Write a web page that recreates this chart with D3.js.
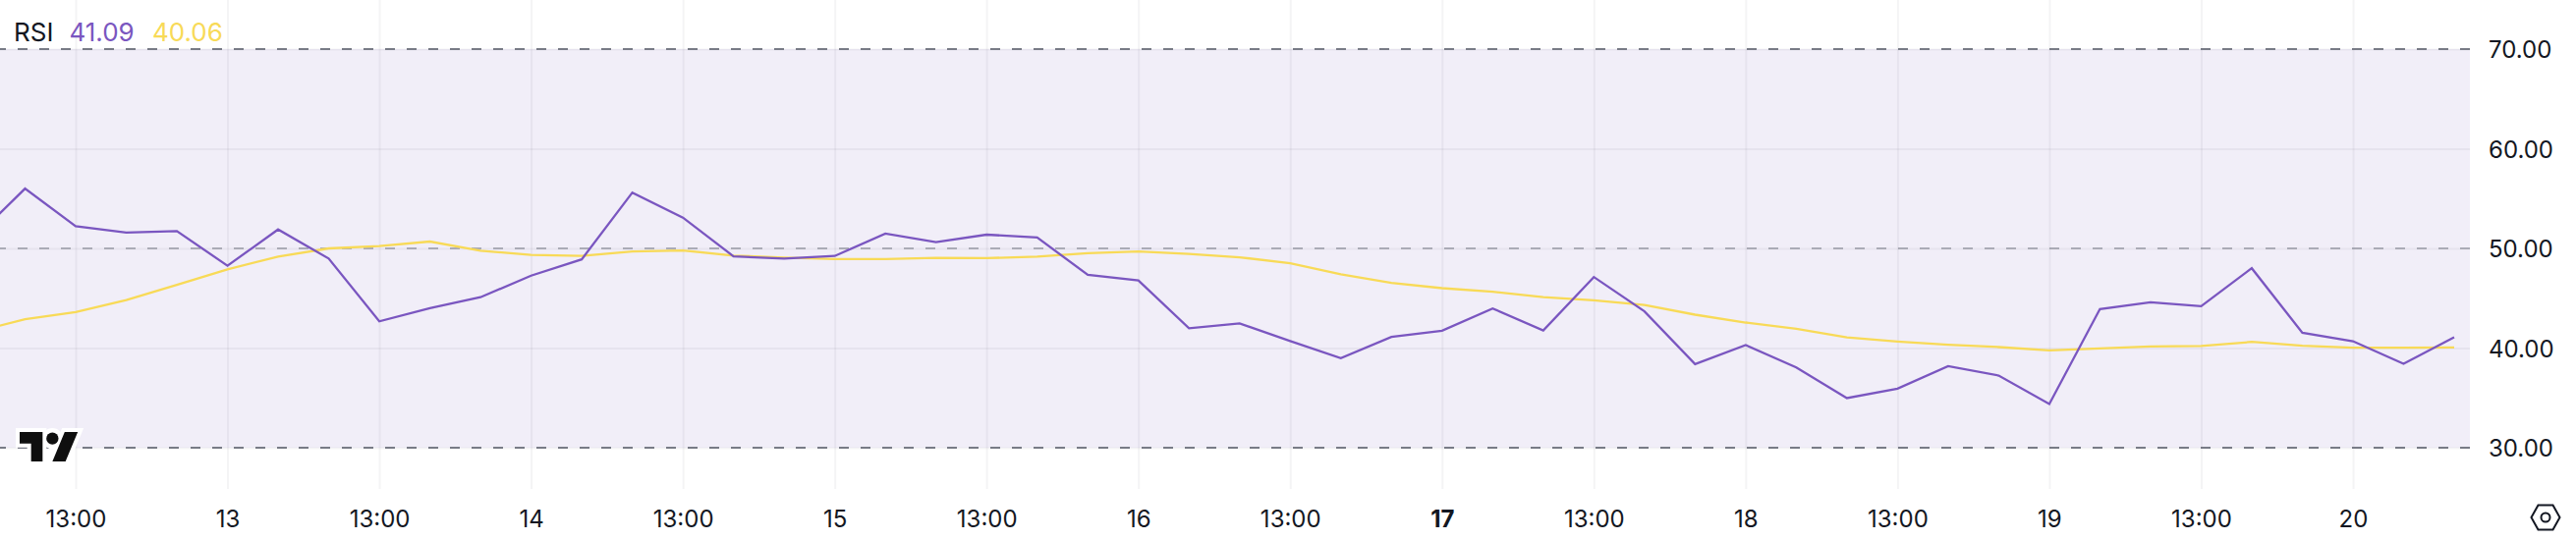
<!DOCTYPE html>
<html>
<head>
<meta charset="utf-8">
<script src="https://cdn.jsdelivr.net/npm/d3@7/dist/d3.min.js"></script>
<style>
html,body{margin:0;padding:0;background:#fff;}
svg{display:block;}
text{font-family:Inter,"Noto Sans",sans-serif;}
</style>
</head>
<body>
<svg id="chart" width="2622" height="550"></svg>
<script>
const rsiValues = [51.0,56.0,52.23,51.58,51.74,48.26,51.9,48.98,42.68,44.0,45.1,47.27,48.9,55.6,53.09,49.2,48.98,49.24,51.48,50.62,51.38,51.1,47.34,46.78,41.99,42.48,40.7,38.98,41.12,41.74,43.97,41.77,47.13,43.68,38.39,40.3,38.06,34.98,35.93,38.19,37.24,34.38,43.91,44.6,44.2,48.01,41.54,40.69,38.42,41.09];
const maValues = [41.6,42.9,43.6,44.81,46.35,47.9,49.18,50.0,50.23,50.69,49.77,49.34,49.24,49.7,49.8,49.28,49.08,48.92,48.92,49.05,49.02,49.18,49.51,49.7,49.44,49.11,48.52,47.39,46.54,46.01,45.65,45.12,44.79,44.33,43.35,42.56,41.94,41.08,40.66,40.33,40.1,39.77,39.97,40.16,40.2,40.62,40.23,40.03,40.03,40.06];
const xTickIndex = [2,5,8,11,14,17,20,23,26,29,32,35,38,41,44,47];
const xTickLabels = ["13:00","13","13:00","14","13:00","15","13:00","16","13:00","17","13:00","18","13:00","19","13:00","20"];
const boldTick = "17";
const yTicks = [30,40,50,60,70];
const bandLevels = [30,70];
const dashedLevels = [30,50,70];
const legendName = "RSI";

const PURPLE = "#7A56C0", YELLOW = "#F8DA57", TEXT = "#131722", BAND = "#F1EEF8", GRID = "rgba(42,46,57,0.05)";
const plotW = 2514, gridBottom = 498, H = 550;

const svg = d3.select("#chart");
const x = d3.scaleLinear().domain([0,49]).range([-26.02,2498.0]);
const y = d3.scaleLinear().domain([30,70]).range([456,50]);

svg.append("defs").append("clipPath").attr("id","plot")
  .append("rect").attr("x",0).attr("y",0).attr("width",plotW).attr("height",H);

// band
svg.append("rect")
  .attr("x",0).attr("width",plotW)
  .attr("y",y(bandLevels[1])).attr("height",y(bandLevels[0])-y(bandLevels[1]))
  .attr("fill",BAND);

// vertical and horizontal grid
const vg = svg.append("g").attr("transform",`translate(0,${gridBottom})`)
  .call(d3.axisBottom(x).tickValues(xTickIndex).tickSize(-gridBottom).tickFormat(""));
vg.select(".domain").remove();
vg.selectAll("line").attr("stroke",GRID).attr("stroke-width",2);

const hg = svg.append("g")
  .call(d3.axisLeft(y).tickValues(yTicks).tickSize(-plotW).tickFormat(""));
hg.select(".domain").remove();
hg.selectAll("line").attr("stroke",GRID).attr("stroke-width",2);

// dashed levels
svg.append("g").selectAll("line").data(dashedLevels).join("line")
  .attr("x1",0).attr("x2",plotW)
  .attr("y1",d=>y(d)).attr("y2",d=>y(d))
  .attr("stroke","#787B86").attr("stroke-width",2)
  .attr("stroke-opacity",d=>d===50?0.55:1)
  .attr("stroke-dasharray","10 12").attr("stroke-dashoffset",4);

// series
const line = d3.line().x((d,i)=>x(i)).y(d=>y(d));
const series = svg.append("g").attr("clip-path","url(#plot)");
series.append("path").datum(maValues).attr("d",line).attr("fill","none")
  .attr("stroke",YELLOW).attr("stroke-width",2.3);
series.append("path").datum(rsiValues).attr("d",line).attr("fill","none")
  .attr("stroke",PURPLE).attr("stroke-width",2.3);

// x labels
const xa = svg.append("g").attr("transform","translate(0,528)")
  .call(d3.axisBottom(x).tickValues(xTickIndex).tickSize(0).tickPadding(0)
    .tickFormat((d,i)=>xTickLabels[i]));
xa.select(".domain").remove();
xa.selectAll("text").attr("y",0).attr("dy","0.36em")
  .attr("font-size",24).attr("fill",TEXT)
  .attr("font-family","Inter")
  .attr("font-weight",d=>xTickLabels[xTickIndex.indexOf(d)]===boldTick?700:400);

// y labels
const ya = svg.append("g").attr("transform","translate(2533,0)")
  .call(d3.axisRight(y).tickValues(yTicks).tickSize(0).tickPadding(0)
    .tickFormat(d3.format(".2f")));
ya.select(".domain").remove();
ya.selectAll("text").attr("x",0).attr("dy","0.36em")
  .attr("font-size",24).attr("fill",TEXT).attr("font-family","Inter");

// legend
const lg = svg.append("g").attr("font-size",26);
lg.append("text").attr("x",14).attr("y",42.3).attr("fill",TEXT).text(legendName);
lg.append("text").attr("x",70.5).attr("y",42.3).attr("fill",PURPLE).text(d3.format(".2f")(rsiValues[rsiValues.length-1]));
lg.append("text").attr("x",155).attr("y",42.3).attr("fill",YELLOW).text(d3.format(".2f")(maValues[maValues.length-1]));

// TradingView logo
const logo = svg.append("g").attr("transform","translate(20,433.3) scale(1.667)");
const logoPaths = "M14 22H7V11H0V4h14v18zM28 22h-8l7.5-18h8L28 22z";
logo.append("path").attr("d",logoPaths).attr("fill","#fff").attr("stroke","#fff").attr("stroke-width",4.8);
logo.append("circle").attr("cx",20).attr("cy",8).attr("r",4).attr("fill","#fff").attr("stroke","#fff").attr("stroke-width",4.8);
logo.append("path").attr("d",logoPaths).attr("fill","#0F0F0F");
logo.append("circle").attr("cx",20).attr("cy",8).attr("r",3.7).attr("fill","#0F0F0F");

// settings icon
const icon = svg.append("g").attr("transform","translate(2591,527)")
  .attr("fill","none").attr("stroke","#131722").attr("stroke-width",2);
icon.append("path").attr("d","M-14.5 0L-7.5 -12.5H7.5L14.5 0L7.5 12.5H-7.5Z");
icon.append("circle").attr("r",4.5);
</script>
</body>
</html>
